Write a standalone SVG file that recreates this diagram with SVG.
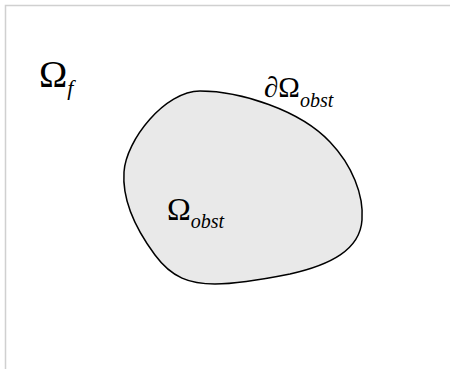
<svg xmlns="http://www.w3.org/2000/svg" width="450" height="369" viewBox="0 0 450 369">
<style>
text{font-family:'Liberation Serif','Times New Roman',serif;fill:#000}
.sub{font-style:italic}
</style>
<rect x="0" y="0" width="450" height="369" fill="#fff"/>
<path d="M5.5 369 V5.5 H450" fill="none" stroke="#d0d0d0" stroke-width="1.5"/>
<g id="obstacle">
<path d="M200 91 C240 91 300 110 330 142 C352 165 364 195 362 220 C360 250 330 265 290 274 C260 280 235 284 215 284 C190 284 172 278 155 255 C135 228 122 200 124 172 C126 140 165 91 200 91 Z" fill="#e9e9e9" stroke="#000" stroke-width="1.5"/>
</g>
<g id="label-fluid">
<text x="39" y="87" font-size="38">Ω<tspan class="sub" font-size="22" dy="8">f</tspan></text>
</g>
<g id="label-boundary">
<text x="264" y="97" font-size="29">∂Ω<tspan class="sub" font-size="20" dy="10">obst</tspan></text>
</g>
<g id="label-obstacle">
<text x="167" y="220" font-size="32">Ω<tspan class="sub" font-size="20" dy="8">obst</tspan></text>
</g>
</svg>
